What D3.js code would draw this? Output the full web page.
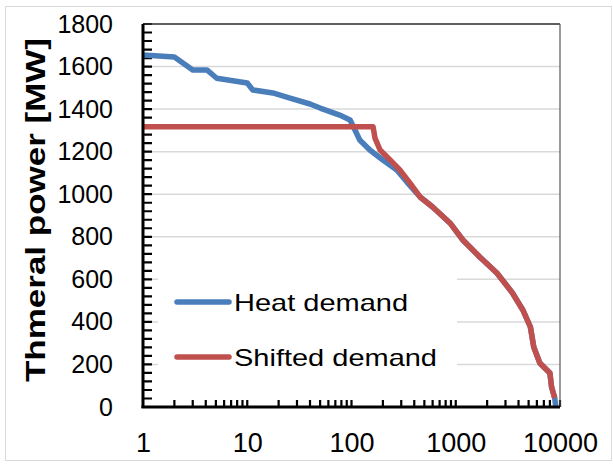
<html><head>
<title>Heat demand duration curve</title>
<script src="https://d3js.org/d3.v7.min.js"></script>
<style>
  body { margin: 0; background: white; }
  text { font-family: "Liberation Sans", Arial, sans-serif; fill: #000; }
</style>
</head>
<body>
<svg id="chart" width="613" height="465"></svg>

<script>
  // values (hours of the year, MW)
  const heatHours = [1, 2, 3, 4.1, 5.1, 10, 11.3, 17.6, 25.7, 40, 50, 77, 97, 108, 120, 150, 200, 272, 340, 420];
  const heatMW    = [1654, 1645, 1584, 1584, 1545, 1523, 1490, 1476, 1452, 1424, 1405, 1372, 1349, 1302, 1255, 1208, 1161, 1114, 1057, 1006];

  const shiftHours = [1, 161, 168, 188, 245, 291, 363];
  const shiftMW    = [1317, 1317, 1264, 1208, 1152, 1114, 1053];

  // both curves run together after ~450 h
  const tailHours = [455, 600, 880, 1170, 1700, 2480, 3500, 4400, 5200, 5600, 6400, 8000, 8300, 8900];
  const tailMW    = [987, 940, 865, 785, 705, 630, 536, 456, 376, 282, 207, 160, 94, 42];

  const endHours = [9100];
  const endMW = [0];

  const yTicks = [0, 200, 400, 600, 800, 1000, 1200, 1400, 1600, 1800];
  const xTicks = [1, 10, 100, 1000, 10000];
  const seriesNames = ["Heat demand", "Shifted demand"];
  const colors = ["#4a7ebb", "#c0504d"];

  const svg = d3.select("svg#chart");
  const plot = { left: 143, right: 560, top: 24, bottom: 407 };

  const x = d3.scaleLog().domain([1, 10000]).range([plot.left, plot.right]);
  const y = d3.scaleLinear().domain([0, 1800]).range([plot.bottom, plot.top]);

  const zip = (hs, vs) => hs.map((h, i) => ({h: h, v: vs[i]}));
  const heat = zip(heatHours.concat(tailHours, endHours), heatMW.concat(tailMW, endMW));
  const shifted = zip(shiftHours.concat(tailHours), shiftMW.concat(tailMW));

  // outer frame
  svg.append("rect")
    .attr("x", 5.5).attr("y", 6.5).attr("width", 606).attr("height", 454)
    .attr("fill", "white").attr("stroke", "#d9d9d9").attr("stroke-width", 1);

  // gridlines
  svg.selectAll("line.grid").data(yTicks.slice(1))
    .join("line")
    .attr("class", "grid")
    .attr("x1", plot.left).attr("x2", plot.right)
    .attr("y1", d => y(d)).attr("y2", d => y(d))
    .attr("stroke", "#d9d9d9").attr("stroke-width", 1.5);

  // legend background hides the gridlines
  svg.append("rect")
    .attr("x", 158).attr("y", 252).attr("width", 299).attr("height", 140)
    .attr("fill", "white");

  // small ticks inside the axes (y every 40, x log minor)
  const minor = [];
  [1, 10, 100, 1000].forEach(d => { for (let k = 2; k <= 10; k++) minor.push(d * k); });
  const tp = d3.path();
  d3.range(0, 1801, 40).forEach(v => { tp.moveTo(plot.left, y(v)); tp.lineTo(plot.left + 9, y(v)); });
  minor.forEach(v => { tp.moveTo(x(v), plot.bottom); tp.lineTo(x(v), plot.bottom - 7); });
  svg.append("path")
    .attr("d", tp.toString())
    .attr("fill", "none")
    .attr("stroke", "#000")
    .attr("stroke-width", 2.2);

  // frame top / right
  svg.append("line").attr("x1", plot.left).attr("x2", plot.right).attr("y1", plot.top).attr("y2", plot.top)
    .attr("stroke", "#333").attr("stroke-width", 1.5);
  svg.append("line").attr("x1", plot.right).attr("x2", plot.right).attr("y1", plot.top).attr("y2", plot.bottom)
    .attr("stroke", "#555").attr("stroke-width", 1.2);

  // lines
  const line = d3.line().x(d => x(d.h)).y(d => y(d.v));
  [heat, shifted].forEach((s, i) => {
    svg.append("path").datum(s)
      .attr("fill", "none")
      .attr("stroke", colors[i])
      .attr("stroke-width", 5.5)
      .attr("stroke-linejoin", "round")
      .attr("d", line);
  });

  // axis lines
  svg.append("line").attr("x1", plot.left).attr("x2", plot.left).attr("y1", plot.top).attr("y2", plot.bottom + 1)
    .attr("stroke", "#000").attr("stroke-width", 3);
  svg.append("line").attr("x1", plot.left - 1.5).attr("x2", plot.right).attr("y1", plot.bottom).attr("y2", plot.bottom)
    .attr("stroke", "#000").attr("stroke-width", 3);

  const yLab = svg.append("g").attr("transform", `translate(${plot.left},0)`)
    .call(d3.axisLeft(y).tickValues(yTicks).tickSize(0).tickPadding(30).tickFormat(d3.format("d")));
  yLab.select(".domain").remove();
  yLab.selectAll("text").attr("font-size", 25).attr("font-family", "Liberation Sans, Arial, sans-serif");

  const xLab = svg.append("g").attr("transform", `translate(0,${plot.bottom})`)
    .call(d3.axisBottom(x).tickValues(xTicks).tickSize(0).tickFormat(d3.format("d")));
  xLab.select(".domain").remove();
  xLab.selectAll("text").attr("y", 45).attr("dy", 0)
    .attr("font-size", 27).attr("font-family", "Liberation Sans, Arial, sans-serif");

  // axis title
  svg.append("text")
    .attr("transform", "translate(45,210) rotate(-90)")
    .attr("text-anchor", "middle")
    .attr("font-size", 28)
    .attr("font-weight", "bold")
    .attr("textLength", 344)
    .attr("lengthAdjust", "spacingAndGlyphs")
    .text("Thmeral power [MW]");

  // legend
  const legendY = [302, 357];
  const legendW = [174, 203];
  seriesNames.forEach((name, i) => {
    svg.append("line")
      .attr("x1", 177).attr("x2", 229).attr("y1", legendY[i]).attr("y2", legendY[i])
      .attr("stroke", colors[i]).attr("stroke-width", 5.5).attr("stroke-linecap", "round");
    svg.append("text")
      .attr("x", 234).attr("y", legendY[i] + 9)
      .attr("font-size", 24)
      .attr("textLength", legendW[i])
      .attr("lengthAdjust", "spacingAndGlyphs")
      .text(name);
  });
</script>
</body>
</html>
